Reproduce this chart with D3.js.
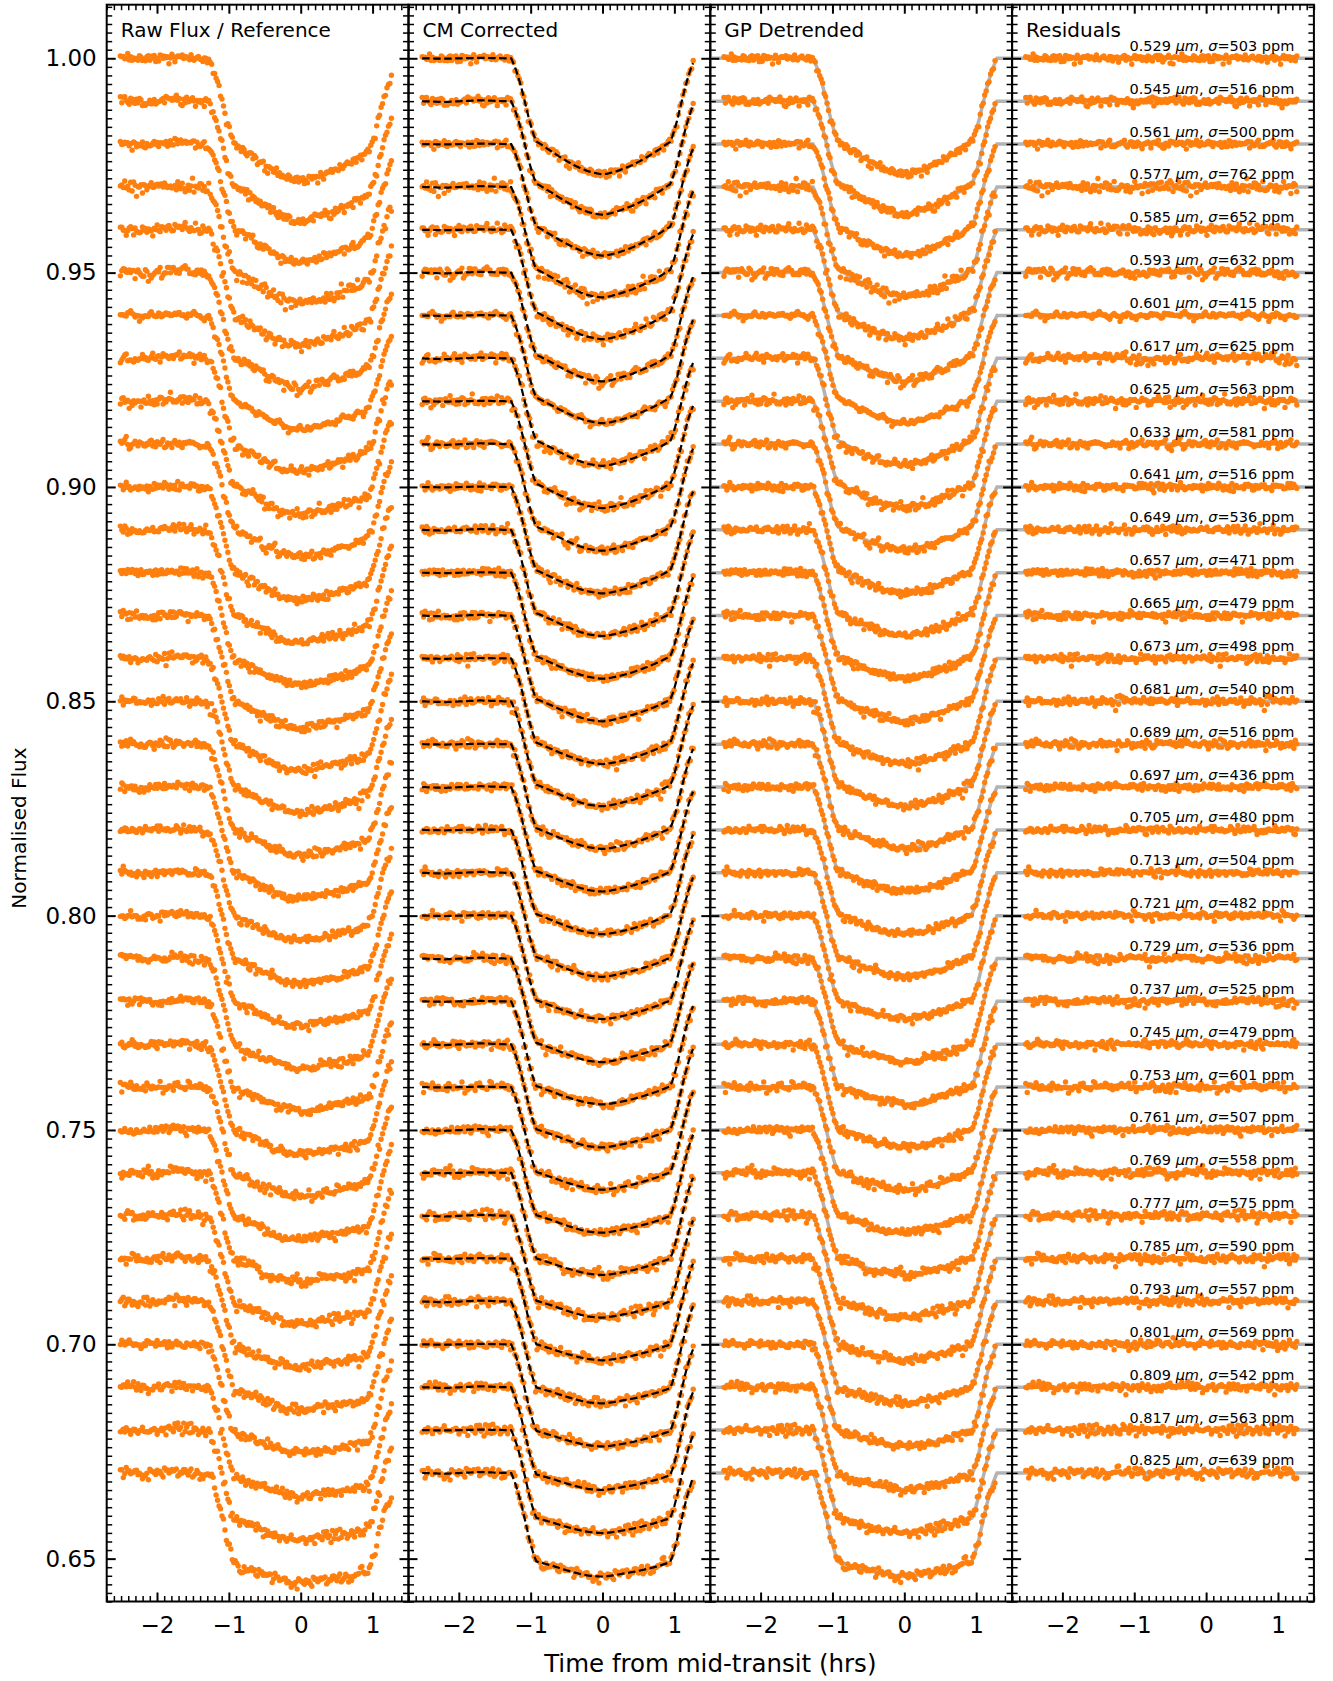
<!DOCTYPE html>
<html><head><meta charset="utf-8">
<script src="https://cdn.jsdelivr.net/npm/d3@7"></script>
<style>body{margin:0;background:#fff}svg{display:block}text{font-family:"DejaVu Sans",sans-serif;fill:#000}</style>
</head><body><svg id="c" width="1333" height="1681"></svg>
<script>
// ---------------- data ----------------
const wavelengths = [0.529,0.545,0.561,0.577,0.585,0.593,0.601,0.617,0.625,0.633,0.641,0.649,0.657,0.665,0.673,0.681,0.689,0.697,0.705,0.713,0.721,0.729,0.737,0.745,0.753,0.761,0.769,0.777,0.785,0.793,0.801,0.809,0.817,0.825];
const sigmaPpm = [503,516,500,762,652,632,415,625,563,581,516,536,471,479,498,540,516,436,480,504,482,536,525,479,601,507,558,575,590,557,569,542,563,639];
// central transit depth of each light curve
const depths = [0.0270,0.0264,0.0260,0.0257,0.0255,0.0253,0.0251,0.0250,0.0249,0.0248,0.0248,0.0247,0.0247,0.0246,0.0246,0.0244,0.0244,0.0243,0.0243,0.0242,0.0241,0.0241,0.0240,0.0240,0.0239,0.0239,0.0238,0.0237,0.0237,0.0237,0.0238,0.0239,0.0240,0.0241];
// depth at 2nd/3rd contact as a fraction of the central depth (limb darkening)
const contactFrac = [0.72,0.73,0.74,0.75,0.755,0.76,0.765,0.77,0.775,0.78,0.785,0.79,0.79,0.795,0.80,0.80,0.805,0.81,0.81,0.815,0.82,0.82,0.825,0.83,0.83,0.835,0.84,0.84,0.845,0.85,0.85,0.855,0.855,0.86];
const curveSpacing = 0.01;
// ingress / egress profile (fraction of disc covered)
const edgeT = [-1.27,-1.22,-1.18,-1.13,-1.09,-1.05,-1.02,-0.98,-0.95,-0.92,0.94,0.97,1.00,1.04,1.07,1.11,1.15,1.20,1.24,1.29];
const edgeV = [0,0.10,0.20,0.35,0.49,0.63,0.74,0.86,0.94,1,1,0.94,0.86,0.74,0.63,0.49,0.35,0.20,0.10,0];
// limb-darkened bowl inside full transit
const bowlT = [-0.92,-0.85,-0.80,-0.70,-0.60,-0.50,-0.40,-0.30,-0.20,-0.10,-0.04,0.01,0.06,0.12,0.22,0.32,0.42,0.52,0.62,0.72,0.82,0.87,0.94];
const bowlV = [0,0.10,0.18,0.33,0.47,0.60,0.72,0.82,0.90,0.96,0.99,1.0,0.99,0.96,0.90,0.82,0.72,0.60,0.47,0.33,0.18,0.10,0];
// common-mode trend in the raw flux
const rawTrendT = [-2.7,-2.0,-1.5,-1.2,-0.5,0,0.5,0.9,1.1,1.3,1.5];
const rawTrendV = [0.0002,0.0001,-0.0001,-0.0005,-0.0011,-0.0014,-0.0018,-0.0022,-0.0028,-0.0037,-0.0045];
// residual correlated noise left after common-mode correction
const gpT = [-2.7,-2.2,-1.7,-1.2,-0.7,-0.2,0.3,0.8,1.3,1.5];
const gpV = [0.0001,-0.0002,0.0002,-0.0001,0.0002,-0.0002,0.0001,-0.0002,0.0001,0];
// white-noise pattern in units of sigma
const noiseUnits = [
 0.42,-1.13,0.78,0.15,-0.52,1.36,-0.21,0.63,-1.74,0.08,
 0.91,-0.38,-0.95,1.18,0.02,-0.27,0.49,-1.31,0.71,2.24,
 -0.61,0.36,-0.09,1.02,-0.83,0.19,-2.05,0.58,1.47,-0.72,
 0.27,-0.16,0.84,-1.04,0.11,1.09,-0.47,-1.42,0.39,0.88,
 -0.31,0.05,1.69,-0.93,0.52,-0.64,0.23,-1.22,1.28,0.67,
 -0.12,-0.79,0.61,2.41,-0.44,0.31,-1.58,0.94,0.13,-0.24,
 0.98,-0.69,0.43,-1.08,0.82,-0.33,0.47,1.57,-0.88,0.17,
 -0.55,0.01,-2.62,0.73,1.21,-0.58,0.29,-0.07,0.86,-1.27,
 0.37,0.56,-0.81,1.39,-0.18,0.09,-0.99,0.51,-0.41,1.93,
 -0.74,0.21,0.77,-1.49,-0.03,0.62,-0.29,1.12,-0.91,0.33,
 -3.05];
const obsStart = -2.51, cadence = 0.0205, nObs = 185;
const panelTitles = ["Raw Flux / Reference","CM Corrected","GP Detrended","Residuals"];
const xMajor = [-2,-1,0,1];
const yMajor = [0.65,0.70,0.75,0.80,0.85,0.90,0.95,1.00];
const xDomain = [-2.7,1.5], yDomain = [0.64,1.0125];

// ---------------- layout ----------------
const svg = d3.select("#c");
const L0 = 106.7, PW = 301.8, TOP = 4.7, BOT = 1601.5;
const ORANGE = "#ff7f0e";
const y = d3.scaleLinear(yDomain, [BOT, TOP]);
const edge = d3.scaleLinear(edgeT, edgeV).clamp(true);
const bowl = d3.scaleLinear(bowlT, bowlV).clamp(true);
const rawTrend = d3.scaleLinear(rawTrendT, rawTrendV).clamp(true);
const gp = d3.scaleLinear(gpT, gpV).clamp(true);
const times = d3.range(nObs).map(j => obsStart + j*cadence);
const N = noiseUnits.length;

const base = i => 1 - i*curveSpacing;
const model = (i,t) => base(i) - depths[i]*edge(t)*(contactFrac[i] + (1-contactFrac[i])*bowl(t));
const noise = (i,j) => {
  const s1 = 1 + (i*37) % 99, o1 = (i*53) % N;
  const s2 = 1 + (i*61 + 11) % 97, o2 = (i*29 + 7) % N;
  return (noiseUnits[(j*s1+o1)%N]*0.8 + noiseUnits[(j*s2+o2)%N]*0.6) * sigmaPpm[i]*1e-6;
};

const curves = wavelengths.map((w,i)=>i);
const yMinor = d3.range(320, 507).map(k => k*0.002).filter(v => !yMajor.some(m => Math.abs(m-v)<1e-6));
const xMinor = d3.range(-27, 16).map(k => k/10).filter(v => !xMajor.some(m => Math.abs(m-v)<1e-6));

panelTitles.forEach((title, p) => {
  const left = L0 + p*PW;
  const x = d3.scaleLinear(xDomain, [left, left+PW]);
  const g = svg.append("g");
  const clipId = "clip"+p;
  svg.append("clipPath").attr("id", clipId).append("rect")
    .attr("x", left).attr("y", TOP).attr("width", PW).attr("height", BOT-TOP);
  const gc = g.append("g").attr("clip-path", `url(#${clipId})`);

  const pts = [];
  curves.forEach(i => times.forEach((t,j) => {
    const n = noise(i,j);
    let v;
    if (p===0) v = model(i,t) + rawTrend(t) + gp(t)*(1+(i%3)) + n*1.05;
    else if (p===1) v = model(i,t) + gp(t)*(0.5+(i%2)*0.5) + n;
    else if (p===2) v = model(i,t) + n;
    else v = base(i) + n;
    pts.push([t,v]);
  }));

  const line = d3.line().x(d=>x(d[0])).y(d=>y(d[1]));
  if (p===2) {
    const grid = d3.range(-2.7, 1.5001, 0.01);
    gc.selectAll("path.m").data(curves).join("path").attr("class","m")
      .attr("d", i => line(grid.map(t=>[t, model(i,t)])))
      .attr("fill","none").attr("stroke","#b3b3b3").attr("stroke-width",3.5);
  }
  if (p===3) {
    gc.selectAll("path.m").data(curves).join("path").attr("class","m")
      .attr("d", i => line([[xDomain[0], base(i)],[xDomain[1], base(i)]]))
      .attr("fill","none").attr("stroke","#b3b3b3").attr("stroke-width",3.5);
  }
  gc.selectAll("circle").data(pts).join("circle")
    .attr("cx", d=>x(d[0])).attr("cy", d=>y(d[1])).attr("r", 2.7).attr("fill", ORANGE);
  if (p===1) {
    const grid = d3.range(obsStart, obsStart+(nObs-1)*cadence+0.0001, 0.01);
    gc.selectAll("path.m").data(curves).join("path").attr("class","m")
      .attr("d", i => line(grid.map(t=>[t, model(i,t)+gp(t)*(0.5+(i%2)*0.5)])))
      .attr("fill","none").attr("stroke","#000").attr("stroke-width",2.2)
      .attr("stroke-dasharray","7.5,3.5");
  }

  // axes (ticks inward on all sides)
  const mk = (axis, major, labels, tx, ty) => {
    const a = axis.tickValues(major).tickSizeInner(-9).tickSizeOuter(0);
    if (!labels) a.tickFormat(""); 
    const ga = g.append("g").attr("transform",`translate(${tx},${ty})`).call(a);
    ga.select(".domain").remove();
    ga.selectAll("line").attr("stroke","#000").attr("stroke-width",2);
    return ga;
  };
  const mkMinor = (axis, minor, tx, ty) => {
    const ga = g.append("g").attr("transform",`translate(${tx},${ty})`)
      .call(axis.tickValues(minor).tickSizeInner(-5.5).tickSizeOuter(0).tickFormat(""));
    ga.select(".domain").remove();
    ga.selectAll("line").attr("stroke","#000").attr("stroke-width",1.5);
  };
  mk(d3.axisLeft(y).tickPadding(10).tickFormat(d3.format(".2f")), yMajor, p===0, left, 0);
  mk(d3.axisRight(y), yMajor, false, left+PW, 0);
  mkMinor(d3.axisLeft(y), yMinor, left, 0);
  mkMinor(d3.axisRight(y), yMinor, left+PW, 0);
  mk(d3.axisBottom(x).tickPadding(15.5).tickFormat(d3.format("d")), xMajor, true, 0, BOT);
  mk(d3.axisTop(x), xMajor, false, 0, TOP);
  mkMinor(d3.axisBottom(x), xMinor, 0, BOT);
  mkMinor(d3.axisTop(x), xMinor, 0, TOP);
  g.selectAll(".tick text").attr("font-family","DejaVu Sans").attr("font-size",23).attr("fill","#000");

  g.append("rect").attr("x",left).attr("y",TOP).attr("width",PW).attr("height",BOT-TOP)
    .attr("fill","none").attr("stroke","#000").attr("stroke-width",2);

  g.append("text").attr("x", left+14).attr("y", 37).attr("font-size",20).text(title);

  if (p===3) {
    const lab = g.selectAll("text.lab").data(curves).join("text").attr("class","lab")
      .attr("x", x(xDomain[1]) - 19.5).attr("y", i => y(base(i)) - 7.5)
      .attr("text-anchor","end").attr("font-size",14.5);
    lab.append("tspan").text(i => d3.format(".3f")(wavelengths[i]) + " ");
    lab.append("tspan").attr("font-style","italic").text("\u03bcm");
    lab.append("tspan").text(", ");
    lab.append("tspan").attr("font-style","italic").text("\u03c3");
    lab.append("tspan").text(i => "=" + sigmaPpm[i] + " ppm");
  }
});

svg.append("text").attr("x", L0 + 2*PW).attr("y", 1672).attr("text-anchor","middle")
  .attr("font-size",24.5).text("Time from mid-transit (hrs)");
svg.append("text").attr("transform","translate(26,828) rotate(-90)").attr("text-anchor","middle")
  .attr("font-size",20).text("Normalised Flux");
</script></body></html>
